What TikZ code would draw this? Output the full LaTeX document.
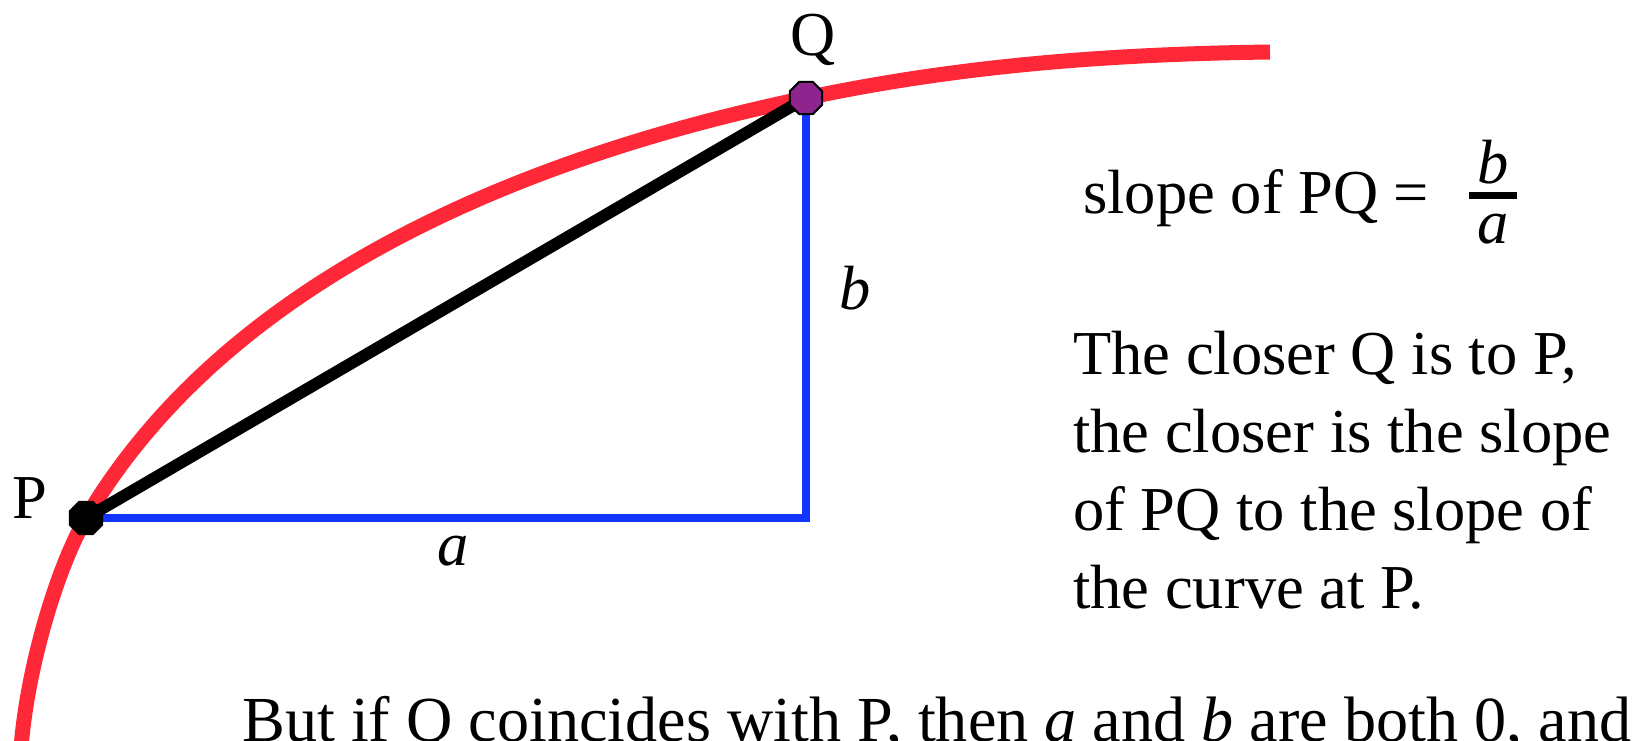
\documentclass[tikz,border=0pt]{standalone}
\usepackage{fontspec}
\setmainfont{Liberation Serif}
\usetikzlibrary{shapes.geometric, positioning, backgrounds}
\definecolor{CurveRed}{RGB}{255,40,56}
\definecolor{LegBlue}{RGB}{18,52,255}
\definecolor{PointPurple}{RGB}{142,36,142}
\tikzset{
  curve/.style={line width=15pt, CurveRed},
  chord/.style={line width=12pt, black},
  leg/.style={line width=8pt, LegBlue, line join=miter},
  pt/.style={regular polygon, regular polygon sides=8, draw=black, line width=2pt,
    minimum size=35pt, inner sep=0pt},
  lab/.style={font=\fontsize{62.5}{78}\selectfont, inner sep=0pt, anchor=base},
  para/.style={lab, anchor=north west, align=left},
}

\begin{document}
\begin{tikzpicture}[x=1pt, y=-1pt]
  \useasboundingbox (0,0) rectangle (1633,741);
  % the two points
  \node[pt, fill=black] (P) at (86,518) {};
  \node[pt, fill=PointPurple] (Q) at (806,98) {};
  \begin{scope}[on background layer]
    \draw[curve] (21,748) .. controls (27,670) and (56,570) .. (P.center)
      .. controls (236,264) and (556,150) .. (Q.center)
      .. controls (966,64) and (1120,54) .. (1270,52);
    \draw[leg] (P.center) -- (P.center -| Q.center) -- (Q.center);
    \draw[chord] (P.center) -- (Q.center);
  \end{scope}
  % labels
  \node[lab] (labP) at (30,518) {P};
  \node[lab] (labQ) at (813,56) {Q};
  \node[lab, anchor=base west] (labb) at (839,309) {\textit{b}};
  \node[lab] (laba) at (453,565) {\textit{a}};
  \node[lab, anchor=base west] (slope) at (1083,213) {slope of PQ =};
  \node[lab, anchor=center] (frac) at (1493,201) {\renewcommand{\arraystretch}{0.8}%
    \setlength{\arrayrulewidth}{7pt}\setlength{\tabcolsep}{8.5pt}%
    \begin{tabular}{c}\textit{b}\\[-10.2pt]\hline\textit{a}\end{tabular}};
  \node[para] (closer) at (1073,331) {The closer Q is to P,\\the closer is the slope\\
    of PQ to the slope of\\the curve at P.};
  \node[lab, anchor=base west, font=\fontsize{64.2}{78}\selectfont] (note) at (242,741)
    {But if Q coincides with P, then \textit{a} and \textit{b} are both 0, and};
\end{tikzpicture}
\end{document}
